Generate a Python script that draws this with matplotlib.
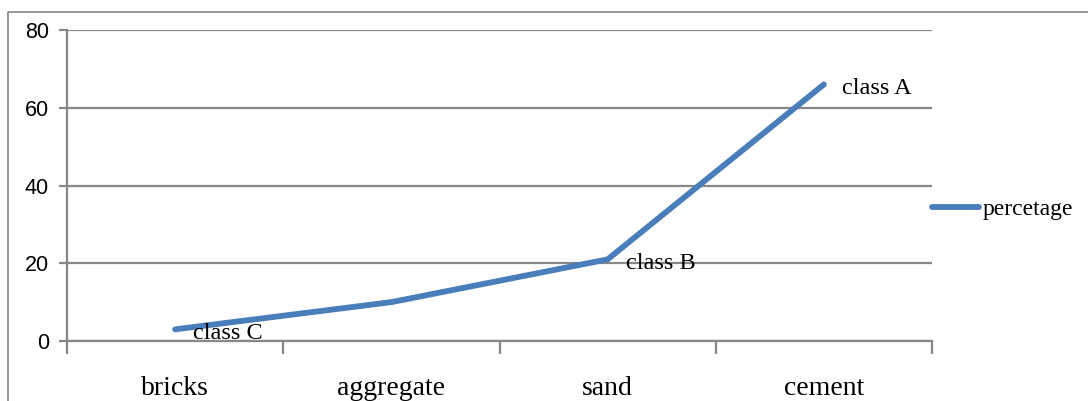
import matplotlib
matplotlib.use("Agg")
import matplotlib.pyplot as plt
from matplotlib.lines import Line2D
import numpy as np

# data
categories = ["bricks", "aggregate", "sand", "cement"]
percentage = [3, 10, 21, 66]
classes = ["class C", None, "class B", "class A"]

blue = "#4A7EBB"
grey = "#878787"

fig = plt.figure(figsize=(10.88, 4.01), dpi=100)
ax = fig.add_axes([67 / 1088, 1 - 341 / 401, (932 - 67) / 1088, (341 - 30) / 401])

x = np.arange(len(categories))
ax.plot(x, percentage, color=blue, lw=4.2, solid_capstyle="round",
        solid_joinstyle="round", label="percetage", zorder=3)

# class labels next to points
for xi, yi, lab in zip(x, percentage, classes):
    if lab:
        ax.annotate(lab, (xi, yi), xytext=(13, -3), textcoords="offset points",
                    ha="left", va="center", family="Liberation Serif",
                    fontsize=17.5, color="black", zorder=4)

ax.set_xlim(-0.5, len(categories) - 0.5)
ax.set_ylim(0, 80)
ax.set_yticks([0, 20, 40, 60, 80])
ax.yaxis.grid(True, color=grey, lw=1.6)
ax.set_axisbelow(True)

for s in ["top", "right"]:
    ax.spines[s].set_visible(False)
ax.spines["left"].set_color(grey)
ax.spines["left"].set_linewidth(1.6)
ax.spines["bottom"].set_color(grey)
ax.spines["bottom"].set_linewidth(1.6)
ax.spines["left"].set_bounds(0, 80)

ax.tick_params(axis="y", length=6, width=1.6, color=grey, pad=7)
for t in ax.get_yticklabels():
    t.set_family("Liberation Sans")
    t.set_fontsize(15.5)

# category labels at centers, tick marks at boundaries
ax.set_xticks(x)
ax.set_xticklabels(categories, family="Liberation Serif", fontsize=20)
ax.tick_params(axis="x", length=0, pad=25)
ax.set_xticks(np.arange(-0.5, len(categories)), minor=True)
ax.tick_params(axis="x", which="minor", length=9, width=1.6, color=grey)

ax.legend(loc="center left", bbox_to_anchor=(1.0, 0.424), frameon=False,
          borderaxespad=0, borderpad=0, handlelength=2.0, handletextpad=0.15,
          prop={"family": "Liberation Serif", "size": 17})

# outer chart border (top and left)
fig.add_artist(Line2D([8 / 1088, 8 / 1088, 1.0], [0.0, 1 - 12 / 401, 1 - 12 / 401],
                      transform=fig.transFigure, color=grey, lw=1.2))

fig.savefig("out.png", dpi=100)
